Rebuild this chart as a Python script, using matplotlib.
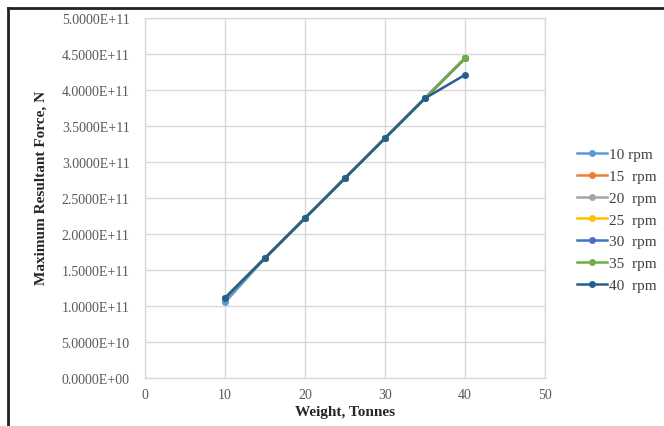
import matplotlib
matplotlib.use("Agg")
import matplotlib.pyplot as plt
from matplotlib.ticker import FuncFormatter
from matplotlib.lines import Line2D

weights = [10, 15, 20, 25, 30, 35, 40]
series_names = ["10 rpm", "15  rpm", "20  rpm", "25  rpm", "30  rpm", "35  rpm", "40  rpm"]
colors = ["#5B9BD5", "#ED7D31", "#A5A5A5", "#FFC000", "#4472C4", "#70AD47", "#255E91"]

common = [1.11e11, 1.665e11, 2.22e11, 2.775e11, 3.33e11, 3.885e11, 4.44e11]
values = [
    [1.05e11, 1.665e11, 2.22e11, 2.775e11, 3.33e11, 3.885e11, 4.44e11],
    list(common),
    list(common),
    list(common),
    list(common),
    list(common),
    [1.11e11, 1.665e11, 2.22e11, 2.775e11, 3.33e11, 3.885e11, 4.21e11],
]

x_ticks = [0, 10, 20, 30, 40, 50]
y_ticks = [i * 5e10 for i in range(11)]

plt.rcParams['font.family'] = ['Liberation Serif', 'DejaVu Serif']

fig = plt.figure(figsize=(6.64, 4.27), dpi=100)
ax = fig.add_axes([145/664, 1-379/427, 400/664, 360/427])

for name, c, v in zip(series_names, colors, values):
    ax.plot(weights, v, color=c, lw=1.8, marker='o', ms=5,
            markeredgewidth=0, label=name)

ax.set_xlim(0, 50)
ax.set_ylim(0, 5e11)
ax.set_xticks(x_ticks)
ax.set_yticks(y_ticks)
ax.yaxis.set_major_formatter(FuncFormatter(lambda v, p: "%.4E" % v))
ax.grid(True, color="#D9D9D9", lw=1)
ax.set_axisbelow(True)
for s in ax.spines.values():
    s.set_color("#D9D9D9")
    s.set_linewidth(1)
ax.tick_params(length=0, labelsize=10, colors="#595959")
ax.tick_params(axis='y', pad=11)
ax.tick_params(axis='x', pad=7)

ax.set_xlabel("Weight, Tonnes", fontsize=11, fontweight='bold', color="#262626", labelpad=3)
ax.set_ylabel("Maximum Resultant Force, N", fontsize=11, fontweight='bold', color="#262626", labelpad=10)
ax.yaxis.label.set_y(0.532)

leg = ax.legend(loc='upper left', bbox_to_anchor=(569/664, 1-141/427),
                bbox_transform=fig.transFigure, frameon=False,
                fontsize=11, handlelength=2.0, handletextpad=0.15,
                labelspacing=0.53, borderpad=0, labelcolor="#404040")

# frame lines at top and left of figure
fig.add_artist(Line2D([8/664, 1], [1-9/427, 1-9/427], transform=fig.transFigure, color="#222222", lw=2))
fig.add_artist(Line2D([8/664, 8/664], [0, 1-9/427], transform=fig.transFigure, color="#222222", lw=2))

fig.savefig("out.png", dpi=100)
